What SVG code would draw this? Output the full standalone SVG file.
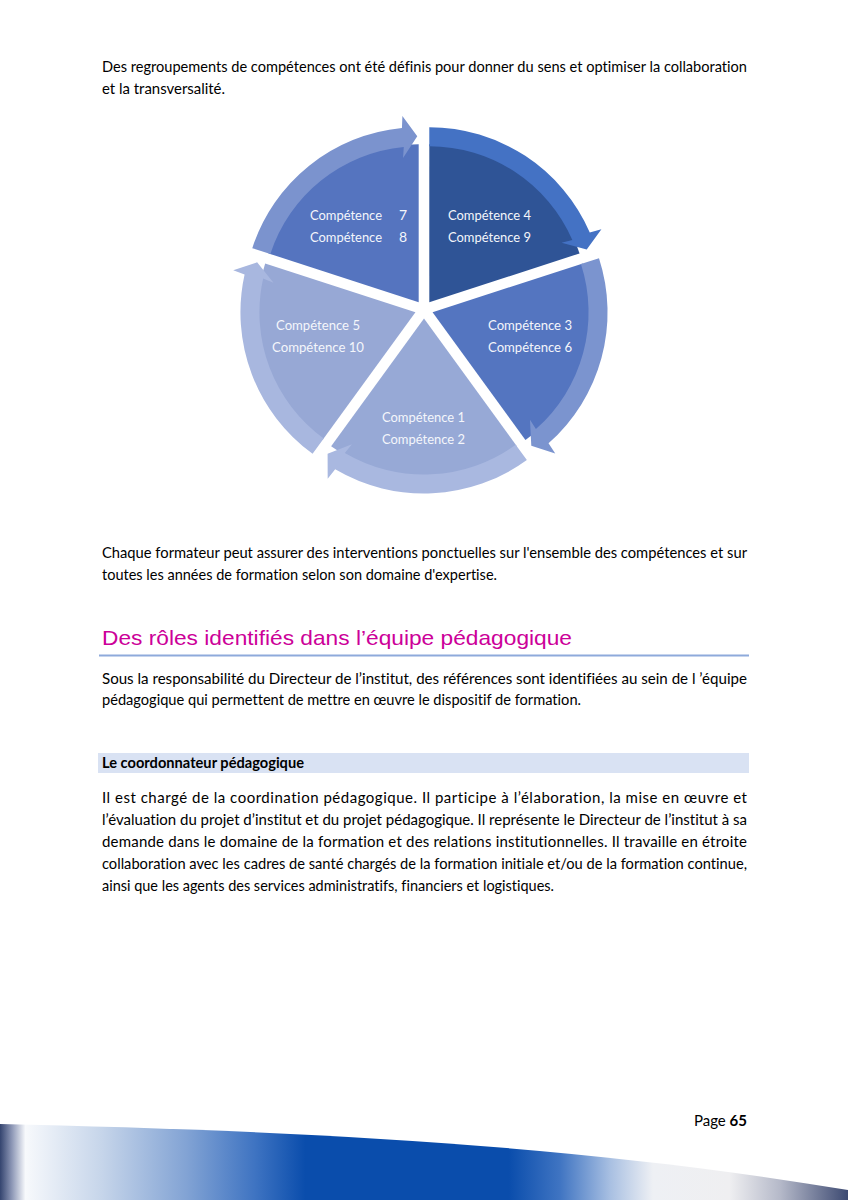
<svg xmlns="http://www.w3.org/2000/svg" width="848" height="1200" viewBox="0 0 848 1200">
<style>
.body{font-family:Lato,"Open Sans","Liberation Sans",sans-serif;font-size:15px;fill:#000;font-variant-ligatures:none}
.bold{font-weight:bold}
.h1{font-family:"Liberation Sans",Arial,sans-serif;font-size:21px;fill:#cc0099}
.lbl{font-family:Lato,"Open Sans","Liberation Sans",sans-serif;font-size:14px;fill:#f4f6fb;font-variant-ligatures:none}
</style>
<defs>
<path id="wedge" d="M0,0 L127.82,-92.87 A158,158 0 0 1 127.82,92.87 Z"/>
<path id="band" d="M141.58,-102.86 A175,175 0 0 1 150.79,88.82 L160.29,96.31 L135.14,96.40 L125.83,72.06 L134.41,79.18 A156,156 0 0 0 126.21,-91.69 Z"/>
<linearGradient id="foot" x1="0" y1="0" x2="848" y2="0" gradientUnits="userSpaceOnUse">
<stop offset="0" stop-color="#34446f"/>
<stop offset="0.014" stop-color="#8d97b6"/>
<stop offset="0.03" stop-color="#f7f9fc"/>
<stop offset="0.12" stop-color="#c6d5ea"/>
<stop offset="0.22" stop-color="#82a3d4"/>
<stop offset="0.3" stop-color="#3f74c2"/>
<stop offset="0.36" stop-color="#0a4dac"/>
<stop offset="0.6" stop-color="#0a4dac"/>
<stop offset="0.66" stop-color="#3f74c2"/>
<stop offset="0.72" stop-color="#a9c0e2"/>
<stop offset="0.77" stop-color="#eef0f4"/>
<stop offset="0.86" stop-color="#efeff1"/>
<stop offset="0.92" stop-color="#b5b9c9"/>
<stop offset="1" stop-color="#3d4a72"/>
</linearGradient>
</defs>
<rect width="848" height="1200" fill="#ffffff"/>

<g id="intro">
<text class="body" x="102" y="72" textLength="645" lengthAdjust="spacingAndGlyphs">Des regroupements de compétences ont été définis pour donner du sens et optimiser la collaboration</text>
<text class="body" x="102" y="94" textLength="123" lengthAdjust="spacingAndGlyphs">et la transversalité.</text>
</g>

<g id="cycle">
<g id="seg-4-9" transform="translate(429.29,302.22) rotate(-54)">
<use href="#wedge" fill="#2f5496"/>
<use href="#band" fill="#4472c4"/>
</g>
<g id="seg-3-6" transform="translate(432.56,312.28) rotate(18)">
<use href="#wedge" fill="#5475c0"/>
<use href="#band" fill="#7b94cf"/>
</g>
<g id="seg-1-2" transform="translate(424,318.5) rotate(90)">
<use href="#wedge" fill="#97a9d6"/>
<use href="#band" fill="#a9b8e0"/>
</g>
<g id="seg-5-10" transform="translate(415.44,312.28) rotate(162)">
<use href="#wedge" fill="#97a8d5"/>
<use href="#band" fill="#a8b7df"/>
</g>
<g id="seg-7-8" transform="translate(418.71,302.22) rotate(234)">
<use href="#wedge" fill="#5574bf"/>
<use href="#band" fill="#7b93ce"/>
</g>
<g id="labels">
<text class="lbl" x="448" y="220" textLength="83" lengthAdjust="spacingAndGlyphs">Compétence 4</text>
<text class="lbl" x="448" y="242" textLength="83" lengthAdjust="spacingAndGlyphs">Compétence 9</text>
<text class="lbl" x="488" y="330" textLength="84" lengthAdjust="spacingAndGlyphs">Compétence 3</text>
<text class="lbl" x="488" y="352" textLength="84" lengthAdjust="spacingAndGlyphs">Compétence 6</text>
<text class="lbl" x="382" y="422" textLength="83" lengthAdjust="spacingAndGlyphs">Compétence 1</text>
<text class="lbl" x="382" y="444" textLength="83" lengthAdjust="spacingAndGlyphs">Compétence 2</text>
<text class="lbl" x="276" y="330" textLength="84" lengthAdjust="spacingAndGlyphs">Compétence 5</text>
<text class="lbl" x="272" y="352" textLength="92" lengthAdjust="spacingAndGlyphs">Compétence 10</text>
<text class="lbl" x="310" y="220" textLength="72" lengthAdjust="spacingAndGlyphs">Compétence</text>
<text class="lbl" x="399" y="220">7</text>
<text class="lbl" x="310" y="242" textLength="72" lengthAdjust="spacingAndGlyphs">Compétence</text>
<text class="lbl" x="399" y="242">8</text>
</g>
</g>

<g id="para2">
<text class="body" x="102" y="558" textLength="645" lengthAdjust="spacingAndGlyphs">Chaque formateur peut assurer des interventions ponctuelles sur l'ensemble des compétences et sur</text>
<text class="body" x="102" y="580" textLength="395" lengthAdjust="spacingAndGlyphs">toutes les années de formation selon son domaine d'expertise.</text>
</g>

<g id="heading">
<text class="h1" x="102" y="645" textLength="470" lengthAdjust="spacingAndGlyphs">Des rôles identifiés dans l’équipe pédagogique</text>
<line x1="99" y1="655.5" x2="749" y2="655.5" stroke="#8eaadb" stroke-width="2"/>
</g>

<g id="para3">
<text class="body" x="102" y="684" textLength="645" lengthAdjust="spacingAndGlyphs">Sous la responsabilité du Directeur de l’institut, des références sont identifiées au sein de l ’équipe</text>
<text class="body" x="102" y="705" textLength="479" lengthAdjust="spacingAndGlyphs">pédagogique qui permettent de mettre en œuvre le dispositif de formation.</text>
</g>

<g id="subheading">
<rect x="98" y="753" width="651" height="20" fill="#d9e2f3"/>
<text class="body bold" x="102" y="768" textLength="202" lengthAdjust="spacingAndGlyphs">Le coordonnateur pédagogique</text>
</g>

<g id="para4">
<text class="body" x="102" y="803" textLength="645" lengthAdjust="spacing">Il est chargé de la coordination pédagogique. Il participe à l’élaboration, la mise en œuvre et</text>
<text class="body" x="102" y="825" textLength="645" lengthAdjust="spacingAndGlyphs">l’évaluation du projet d’institut et du projet pédagogique. Il représente le Directeur de l’institut à sa</text>
<text class="body" x="102" y="847" textLength="645" lengthAdjust="spacing">demande dans le domaine de la formation et des relations institutionnelles. Il travaille en étroite</text>
<text class="body" x="102" y="869" textLength="645" lengthAdjust="spacingAndGlyphs">collaboration avec les cadres de santé chargés de la formation initiale et/ou de la formation continue,</text>
<text class="body" x="102" y="891" textLength="452" lengthAdjust="spacingAndGlyphs">ainsi que les agents des services administratifs, financiers et logistiques.</text>
</g>

<g id="footer">
<text class="body" x="747" y="1126" text-anchor="end">Page <tspan class="bold">65</tspan></text>
<path d="M0,1124 C250,1130 550,1140 848,1190 L848,1200 L0,1200 Z" fill="url(#foot)"/>
</g>
</svg>
